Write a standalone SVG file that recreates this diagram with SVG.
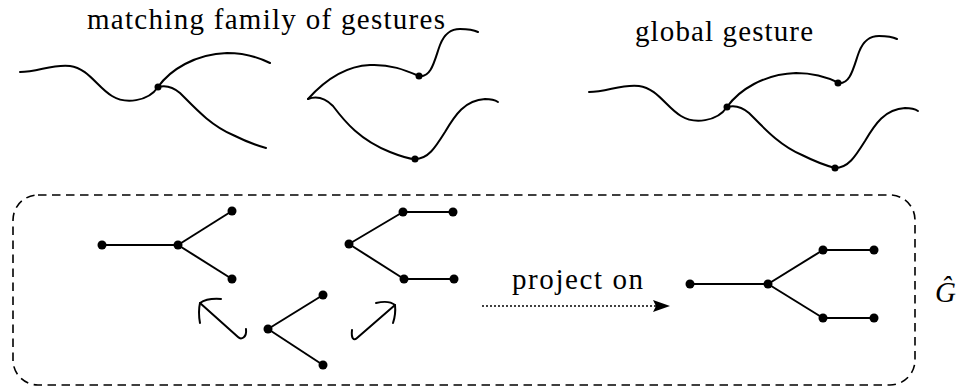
<svg xmlns="http://www.w3.org/2000/svg" width="956" height="388" viewBox="0 0 956 388">
<style>
.c{fill:none;stroke:#000;stroke-width:2;stroke-linecap:round;stroke-linejoin:round}
.e{stroke:#000;stroke-width:2}
.t{font-family:"Liberation Serif","Times New Roman",serif;font-size:29px;fill:#000}
.box{fill:none;stroke:#000;stroke-width:1.6;stroke-dasharray:8.5 5.5}
</style>
<defs>
<g id="gest">
<path class="c" d="M20,72 C38,72 52,64 70,66 C88,68 98,88 112,96 C125,104 148,102 158,87"/>
<path class="c" d="M158,87 C170,70 195,54 227,53 C245,53 260,58 270,63"/>
<path class="c" d="M158,87 C165,85 172,86 180,93 C195,108 210,125 233,135 C245,141 255,145 266,148"/>
</g>
<path id="extU" class="c" d="M419,76 C432,78 435,58 440,45 C445,32 452,29 460,29 C468,29 474,30 478,32"/>
<path id="extL" class="c" d="M415,159 C428,159 435,148 445,132 C455,115 465,100 485,99 C490,99 495,100 498,102"/>
</defs>

<g id="title-matching"><text class="t" x="87" y="29" textLength="358" lengthAdjust="spacing">matching family of gestures</text></g>
<g id="title-global"><text class="t" x="635" y="41" textLength="178" lengthAdjust="spacing">global gesture</text></g>

<g id="gesture-left">
<use href="#gest"/>
<circle cx="158" cy="87" r="3.5"/>
</g>

<g id="gesture-middle">
<path class="c" d="M308,99 C325,80 345,66 370,65 C390,64 405,70 419,76"/>
<path class="c" d="M308,99 C316,96 324,97 333,106 C345,122 360,140 390,152 C400,156 408,159 415,159"/>
<use href="#extU"/>
<use href="#extL"/>
<circle cx="419" cy="76" r="3.5"/>
<circle cx="415" cy="159" r="3.5"/>
</g>

<g id="gesture-global">
<use href="#gest" transform="translate(569,20)"/>
<use href="#extU" transform="translate(419,7)"/>
<use href="#extL" transform="translate(420,9)"/>
<circle cx="727" cy="107" r="3.5"/>
<circle cx="838" cy="83" r="3.5"/>
<circle cx="835" cy="168" r="3.5"/>
</g>

<g id="box-G"><rect class="box" x="13" y="195" width="902" height="190" rx="25"/></g>
<g id="label-G"><text class="t" x="935" y="302" font-style="italic">Ĝ</text></g>

<g id="connectors">
<line class="e" x1="102" y1="245" x2="178" y2="245"/>
<line class="e" x1="178" y1="245" x2="232" y2="211"/>
<line class="e" x1="178" y1="245" x2="232" y2="279"/>
<line class="e" x1="349" y1="244" x2="403" y2="212"/>
<line class="e" x1="403" y1="212" x2="453" y2="212"/>
<line class="e" x1="349" y1="244" x2="404" y2="279"/>
<line class="e" x1="404" y1="279" x2="454" y2="279"/>
<line class="e" x1="268" y1="329" x2="323" y2="295"/>
<line class="e" x1="268" y1="329" x2="323" y2="365"/>
<line class="e" x1="690" y1="284" x2="768" y2="284"/>
<line class="e" x1="768" y1="284" x2="823" y2="250"/>
<line class="e" x1="823" y1="250" x2="874" y2="250"/>
<line class="e" x1="768" y1="284" x2="823" y2="318"/>
<line class="e" x1="823" y1="318" x2="874" y2="318"/>
<path class="c" d="M200,303 L238,337 C241,340 247,338 246,329"/>
<path class="c" d="M221,299 Q207,298 200,303 Q198,312 200,323"/>
<path class="c" d="M395,305 L357,338 C354,341 351,339 352,330"/>
<path class="c" d="M376,303 Q389,300 395,305 Q396,314 393,323"/>
<line x1="483" y1="306" x2="656" y2="306" stroke="#000" stroke-width="2" stroke-linecap="round" stroke-dasharray="0 4"/>
<path d="M670,306 L653,300 L656,306 L653,312 Z"/>
</g>
<g id="label-project"><text class="t" x="512" y="289" textLength="131" lengthAdjust="spacing">project on</text></g>

<g id="tree-A">
<circle cx="102" cy="245" r="4.5"/><circle cx="178" cy="245" r="4.5"/><circle cx="232" cy="211" r="4.5"/><circle cx="232" cy="279" r="4.5"/>
</g>
<g id="tree-B">
<circle cx="349" cy="244" r="4.5"/><circle cx="403" cy="212" r="4.5"/><circle cx="453" cy="212" r="4.5"/><circle cx="404" cy="279" r="4.5"/><circle cx="454" cy="279" r="4.5"/>
</g>
<g id="tree-C">
<circle cx="268" cy="329" r="4.5"/><circle cx="323" cy="295" r="4.5"/><circle cx="323" cy="365" r="4.5"/>
</g>
<g id="tree-D">
<circle cx="690" cy="284" r="4.5"/><circle cx="768" cy="284" r="4.5"/><circle cx="823" cy="250" r="4.5"/><circle cx="874" cy="250" r="4.5"/><circle cx="823" cy="318" r="4.5"/><circle cx="874" cy="318" r="4.5"/>
</g>
</svg>
